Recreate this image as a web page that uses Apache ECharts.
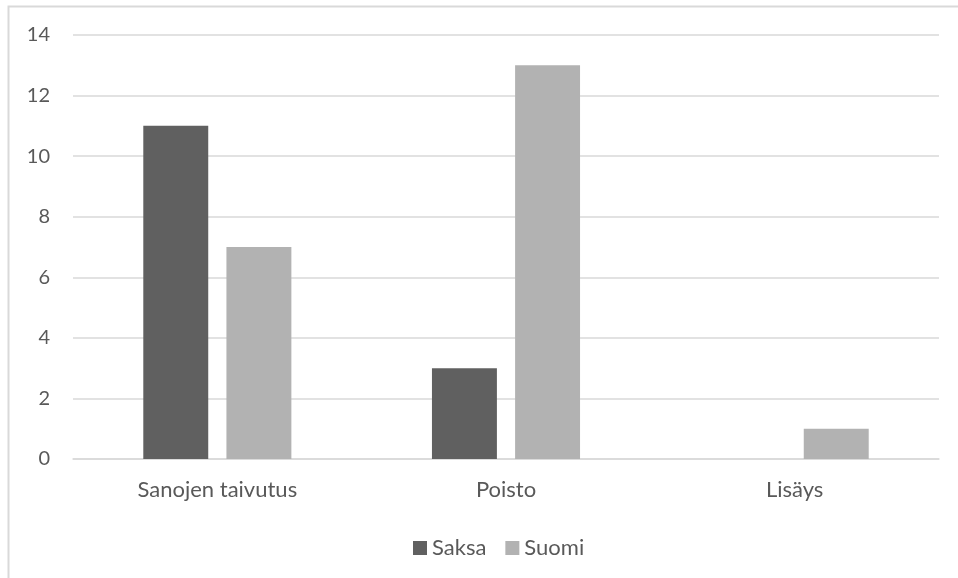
<!DOCTYPE html>
<html><head><meta charset="utf-8">
<script src="https://cdn.jsdelivr.net/npm/echarts@6/dist/echarts.min.js"></script>
<style>html,body{margin:0;padding:0;background:#fff;}#c{width:958px;height:578px;}</style>
</head><body><div id="c"></div>
<script>
var categories = ['Sanojen taivutus', 'Poisto', 'Lisäys'];
var saksa = [11, 3, 0];
var suomi = [7, 13, 1];
var yTicks = [0, 2, 4, 6, 8, 10, 12, 14];

var chart = echarts.init(document.getElementById('c'));
var font = 'Lato, "Open Sans", sans-serif';
chart.setOption({
  animation: false,
  textStyle: {fontFamily: font},
  graphic: [{type: 'rect', shape: {x: 8.5, y: 6.5, width: 1000, height: 1000}, style: {fill: 'none', stroke: '#d9d9d9', lineWidth: 2}}],
  grid: {left: 73, right: 19, top: 35, bottom: 119, containLabel: false},
  legend: {
    top: 532, left: 408, itemWidth: 14, itemHeight: 14, itemGap: 19,
    icon: 'rect',
    textStyle: {fontSize: 22, color: '#595959', fontFamily: font},
    data: ['Saksa', 'Suomi']
  },
  xAxis: {
    type: 'category', data: categories,
    axisLine: {lineStyle: {color: '#d9d9d9', width: 1.5}},
    axisTick: {show: false},
    axisLabel: {fontSize: 22, color: '#595959', margin: 20, fontFamily: font}
  },
  yAxis: {
    type: 'value', min: yTicks[0], max: yTicks[yTicks.length - 1], interval: 2,
    axisLine: {show: false}, axisTick: {show: false},
    axisLabel: {fontSize: 20, color: '#595959', margin: 23, fontFamily: font},
    splitLine: {lineStyle: {color: '#d9d9d9', width: 1.5}}
  },
  series: [
    {name: 'Saksa', type: 'bar', data: saksa, barWidth: '22.5%', barGap: '28%', itemStyle: {color: '#606060'}},
    {name: 'Suomi', type: 'bar', data: suomi, barWidth: '22.5%', barGap: '28%', itemStyle: {color: '#b2b2b2'}}
  ]
});
</script></body></html>
